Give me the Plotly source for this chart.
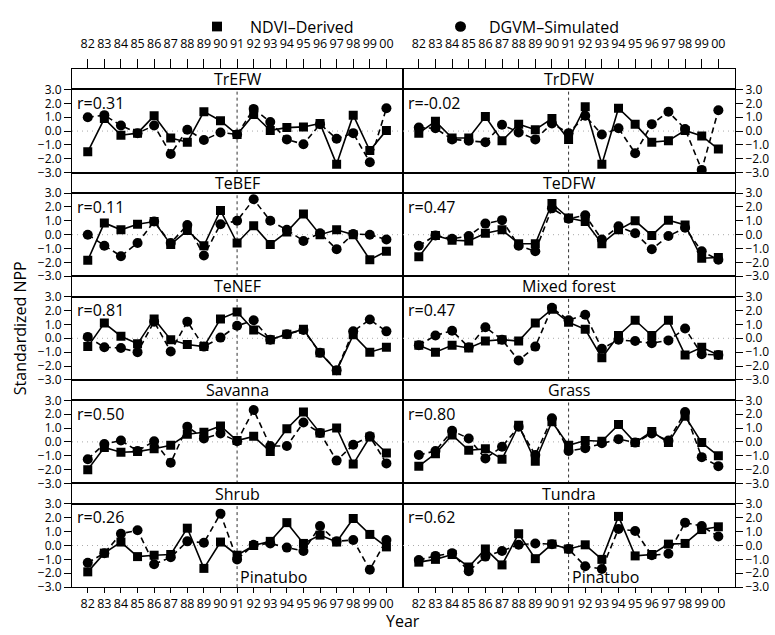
import plotly.graph_objects as go

# ---------------- data ----------------
years = list(range(82, 101))
year_labels = ["82", "83", "84", "85", "86", "87", "88", "89", "90", "91",
               "92", "93", "94", "95", "96", "97", "98", "99", "00"]
y_ticks = [3, 2, 1, 0, -1, -2, -3]

panel_names = ["TrEFW", "TrDFW", "TeBEF", "TeDFW", "TeNEF", "Mixed forest",
               "Savanna", "Grass", "Shrub", "Tundra"]
r_values = ["0.31", "-0.02", "0.11", "0.47", "0.81", "0.47", "0.50", "0.80", "0.26", "0.62"]

ndvi_trefw = [-1.5, 0.9, -0.3, -0.15, 1.1, -0.5, -0.8, 1.4, 0.75, -0.25,
              1.2, 0.05, 0.25, 0.3, 0.55, -2.4, 1.15, -1.4, 0.05]
dgvm_trefw = [1.0, 1.15, 0.4, -0.15, 0.4, -1.65, 0.1, -0.65, -0.1, -0.25,
              1.6, 0.65, -0.6, -0.95, 0.5, -0.55, -0.15, -2.25, 1.65]

ndvi_trdfw = [-0.15, 0.7, -0.5, -0.5, 1.05, -0.7, 0.5, 0.1, 0.9, -0.6,
              1.75, -2.4, 1.65, 0.5, -0.8, -0.7, 0.05, -0.35, -1.3]
dgvm_trdfw = [0.25, 0.2, -0.6, -0.7, -0.8, 0.45, -0.1, -0.6, 0.55, -0.15,
              1.1, -0.25, 0.2, -1.6, 0.5, 1.4, 0.15, -2.8, 1.5]

ndvi_tebef = [-1.85, 0.85, 0.35, 0.75, 0.95, -0.7, 0.3, -0.8, 1.75, -0.6,
              0.65, -0.7, 0.2, 1.5, 0.0, 0.35, 0.0, -1.8, -1.2]
dgvm_tebef = [0.0, -0.8, -1.55, -0.6, 0.95, -0.6, 0.7, -1.5, 0.75, 1.0,
              2.55, 1.0, 0.35, -0.45, 0.1, -1.05, 0.05, 0.0, -0.35]

ndvi_tedfw = [-1.6, -0.05, -0.4, -0.45, 0.1, 0.35, -0.65, -0.65, 2.25, 1.2,
              0.95, -0.65, 0.35, 1.0, -0.05, 1.05, 0.7, -1.7, -1.65]
dgvm_tedfw = [-0.8, -0.05, -0.3, -0.1, 0.8, 1.05, -0.8, -1.2, 1.9, 1.15,
              1.4, -0.35, 0.6, 0.1, -1.05, -0.1, 0.5, -1.2, -1.8]

ndvi_tenef = [-0.6, 1.1, 0.15, -0.4, 1.4, -0.1, -0.45, -0.6, 1.4, 1.9,
              0.6, -0.1, 0.3, 0.65, -1.05, -2.35, 0.25, -1.0, -0.65]
dgvm_tenef = [0.1, -0.65, -0.7, -1.0, 1.2, -0.95, 1.2, -0.6, 0.05, 0.9,
              1.3, -0.1, 0.3, 0.6, -1.05, -2.3, 0.5, 1.35, 0.5]

ndvi_mixed = [-0.5, -1.0, -0.5, -0.7, -0.2, -0.1, -0.2, 1.1, 2.1, 1.15,
              0.65, -1.4, 0.2, 1.3, 0.2, 1.3, -1.2, -0.65, -1.2]
dgvm_mixed = [-0.5, 0.2, 0.55, -0.65, 0.8, -0.1, -1.6, -0.6, 2.2, 1.3,
              1.7, -0.75, -0.1, -0.2, -0.35, -0.15, 0.7, -1.15, -1.2]

ndvi_savanna = [-2.0, -0.4, -0.75, -0.7, -0.5, -0.25, 0.55, 0.7, 1.15, 0.1,
                0.4, -0.7, 0.95, 2.15, 0.65, 1.0, -1.6, 0.35, -0.8]
dgvm_savanna = [-1.25, -0.15, 0.1, -0.65, 0.05, -1.5, 1.1, 0.25, 0.6, 0.05,
                2.3, -0.3, -0.3, 1.4, 0.65, -1.35, -0.2, 0.4, -1.55]

ndvi_grass = [-1.75, -0.85, 0.5, -0.6, -0.5, -1.25, 1.2, -1.4, 1.45, -0.25,
              0.1, 0.05, 1.25, -0.05, 0.75, -0.05, 1.85, -0.05, -1.0]
dgvm_grass = [-0.95, -0.65, 0.8, 0.25, -1.2, -0.35, 1.1, -0.95, 1.7, -0.65,
              -0.45, -0.1, 0.2, -0.05, 0.6, 0.1, 2.15, -1.1, -1.75]

ndvi_shrub = [-1.9, -0.55, 0.25, -0.8, -0.7, -0.65, 1.25, -1.65, 0.25, -0.7,
              0.0, 0.3, 1.65, 0.15, 0.75, 0.25, 1.95, 0.8, -0.1]
dgvm_shrub = [-1.25, -0.55, 0.85, 1.1, -1.35, -0.85, 0.3, 0.2, 2.3, -1.0,
              0.05, 0.15, -0.15, -0.4, 1.4, 0.3, 0.4, -1.75, 0.4]

ndvi_tundra = [-1.2, -1.0, -0.65, -1.55, -0.25, -1.4, 0.85, -0.95, 0.1, -0.25,
               0.05, -1.0, 2.1, -0.75, -0.65, 0.1, 0.15, 1.15, 1.35]
dgvm_tundra = [-1.05, -0.75, -0.55, -1.85, -0.8, -0.4, 0.05, 0.15, 0.1, -0.25,
               -1.5, -1.7, 1.2, 1.05, -0.7, -0.6, 1.65, 1.4, 0.65]

ndvi_series = [ndvi_trefw, ndvi_trdfw, ndvi_tebef, ndvi_tedfw, ndvi_tenef,
               ndvi_mixed, ndvi_savanna, ndvi_grass, ndvi_shrub, ndvi_tundra]
dgvm_series = [dgvm_trefw, dgvm_trdfw, dgvm_tebef, dgvm_tedfw, dgvm_tenef,
               dgvm_mixed, dgvm_savanna, dgvm_grass, dgvm_shrub, dgvm_tundra]

pinatubo_year = 91

# ---------------- layout geometry (pixels) ----------------
W, H = 775, 635
FONT = "Open Sans"
col_px = [(72, 403), (403, 735)]
top_px = 61.7
row_pitch = 106.46
strip_h = 21.0
x_range = [81.05, 101.0]


def fx(px):
    return px / W


def fy(py):
    return 1 - py / H


fig = go.Figure()
layout = dict(
    width=W, height=H,
    margin=dict(l=0, r=0, t=0, b=0),
    paper_bgcolor="white", plot_bgcolor="white",
    showlegend=False,
    font=dict(family=FONT, color="black", size=13),
)
annotations = []
shapes = []

for k in range(10):
    row, col = divmod(k, 2)
    n = k + 1          # data subplot
    s = k + 11         # title strip subplot
    x0p, x1p = col_px[col]
    strip_top = top_px + row * row_pitch
    strip_bot = strip_top + strip_h
    plot_bot = strip_top + row_pitch

    xd = [fx(x0p), fx(x1p)]

    # data panel axes (year ticks only under the bottom row)
    layout[f"xaxis{n}"] = dict(
        domain=xd, anchor=f"y{n}", range=x_range,
        tickvals=years, ticktext=year_labels, tickangle=0,
        showticklabels=(row == 4), ticks="outside" if row == 4 else "",
        ticklen=5, tickcolor="black", tickfont=dict(size=12.5),
        showline=True, mirror=True, linecolor="black", linewidth=1,
        showgrid=False, zeroline=False,
    )
    layout[f"yaxis{n}"] = dict(
        domain=[fy(plot_bot), fy(strip_bot)], anchor=f"x{n}", range=[-3, 3],
        tickvals=y_ticks, tickformat=".1f", side="left" if col == 0 else "right",
        ticks="outside", ticklen=7, tickcolor="black", tickfont=dict(size=12),
        showline=True, mirror=True, linecolor="black", linewidth=1,
        showgrid=False, zeroline=False,
    )
    # title strip axes (year ticks above the top row)
    layout[f"xaxis{s}"] = dict(
        domain=xd, anchor=f"y{s}", range=x_range,
        tickvals=years, ticktext=year_labels, tickangle=0,
        side="top", showticklabels=(row == 0), ticks="outside" if row == 0 else "",
        ticklen=9, ticklabelstandoff=6, tickcolor="black", tickfont=dict(size=12.5),
        showline=True, mirror=True, linecolor="black", linewidth=1,
        showgrid=False, zeroline=False,
    )
    layout[f"yaxis{s}"] = dict(
        domain=[fy(strip_bot), fy(strip_top)], anchor=f"x{s}", range=[0, 1],
        showticklabels=False, ticks="", showline=True, mirror=True,
        linecolor="black", linewidth=1, showgrid=False, zeroline=False,
    )

    # invisible trace so the strip subplot is laid out
    fig.add_trace(go.Scatter(x=[x_range[0]], y=[0.5], mode="markers",
                             marker=dict(opacity=0), hoverinfo="skip",
                             xaxis=f"x{s}", yaxis=f"y{s}"))

    # NDVI-derived: squares, solid line
    fig.add_trace(go.Scatter(
        x=years, y=ndvi_series[k], mode="lines+markers",
        line=dict(color="black", width=1.6),
        marker=dict(symbol="square", size=9, color="black"),
        xaxis=f"x{n}", yaxis=f"y{n}", name="NDVI-Derived"))
    # DGVM-simulated: circles, dashed line
    fig.add_trace(go.Scatter(
        x=years, y=dgvm_series[k], mode="lines+markers",
        line=dict(color="black", width=1.6, dash="6px,4px"),
        marker=dict(symbol="circle", size=10, color="black"),
        xaxis=f"x{n}", yaxis=f"y{n}", name="DGVM-Simulated"))

    # reference lines: eruption year and zero
    shapes.append(dict(type="line", xref=f"x{n}", yref=f"y{n}",
                       x0=pinatubo_year, x1=pinatubo_year, y0=-3, y1=3,
                       line=dict(color="#333", width=1, dash="dot"), layer="below"))
    shapes.append(dict(type="line", xref=f"x{n}", yref=f"y{n}",
                       x0=x_range[0], x1=x_range[1], y0=0, y1=0,
                       line=dict(color="#aaa", width=1, dash="1px,4px"), layer="below"))

    # panel title
    annotations.append(dict(text=panel_names[k], xref="paper", yref="paper",
                            x=(xd[0] + xd[1]) / 2, y=fy((strip_top + strip_bot) / 2),
                            xanchor="center", yanchor="middle", showarrow=False,
                            font=dict(size=16)))
    # correlation coefficient
    annotations.append(dict(text=f"r={r_values[k]}", xref="paper", yref="paper",
                            x=fx(x0p + 3), y=fy(strip_bot + 0.5),
                            xanchor="left", yanchor="top", showarrow=False,
                            font=dict(size=16)))
    if row == 4:
        annotations.append(dict(text="Pinatubo", xref=f"x{n}", yref=f"y{n}",
                                x=pinatubo_year, y=-2.3, xanchor="left",
                                yanchor="middle", xshift=1, showarrow=False,
                                font=dict(size=16)))

# legend
shapes.append(dict(type="rect", xref="paper", yref="paper",
                   x0=fx(212), x1=fx(222), y0=fy(23), y1=fy(13),
                   fillcolor="black", line=dict(width=0)))
shapes.append(dict(type="circle", xref="paper", yref="paper",
                   x0=fx(455), x1=fx(466), y0=fy(23.5), y1=fy(12.5),
                   fillcolor="black", line=dict(width=0)))
annotations.append(dict(text="NDVI\u2013Derived", xref="paper", yref="paper",
                        x=fx(248), y=fy(18), xanchor="left", yanchor="middle",
                        showarrow=False, font=dict(size=16)))
annotations.append(dict(text="DGVM\u2013Simulated", xref="paper", yref="paper",
                        x=fx(487), y=fy(18), xanchor="left", yanchor="middle",
                        showarrow=False, font=dict(size=16)))

# axis titles
annotations.append(dict(text="Standardized NPP", xref="paper", yref="paper",
                        x=fx(20), y=fy(328), textangle=-90, xanchor="center",
                        yanchor="middle", showarrow=False, font=dict(size=16)))
annotations.append(dict(text="Year", xref="paper", yref="paper",
                        x=fx(403), y=fy(626), xanchor="center", yanchor="middle",
                        yshift=-3, showarrow=False, font=dict(size=16)))

layout["annotations"] = annotations
layout["shapes"] = shapes
fig.update_layout(**layout)

fig.write_html("out.html")
